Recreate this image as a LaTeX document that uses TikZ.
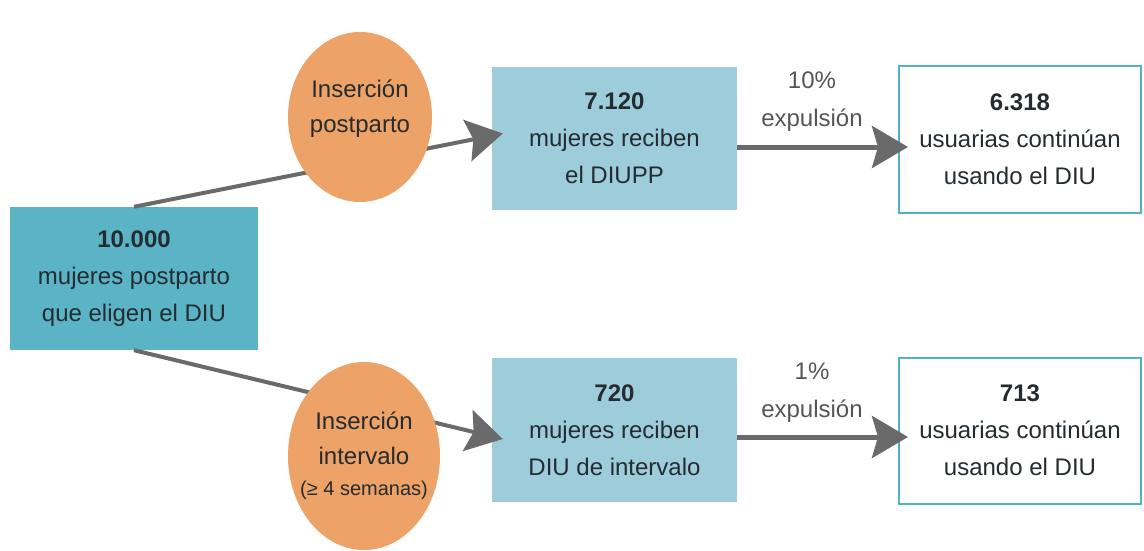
\documentclass[tikz,border=0pt]{standalone}
\usepackage{fontspec}
\setmainfont{Liberation Sans}
\usetikzlibrary{arrows.meta,shapes.geometric}

\definecolor{tealdark}{HTML}{5AB4C6}
\definecolor{teallight}{HTML}{9DCCDA}
\definecolor{tealline}{HTML}{4FB3C4}
\definecolor{naranja}{HTML}{EDA267}
\definecolor{gris}{HTML}{6A6A6A}
\definecolor{texto}{HTML}{252C30}

\tikzset{
    caja/.style={rectangle, inner sep=0pt, align=center, text=texto,
        font=\fontsize{24}{37}\selectfont},
    elipse/.style={ellipse, fill=naranja, inner sep=0pt, align=center,
        text=texto, font=\fontsize{24}{35}\selectfont},
    flecha/.style={draw=gris, line width=5pt,
        -{Stealth[length=36pt,width=42pt,inset=6pt]}},
    etiqueta/.style={align=center, text=gris!80!black,
        font=\fontsize{24}{38}\selectfont}
}

\begin{document}
\begin{tikzpicture}[x=1pt,y=-1pt]
    \useasboundingbox (0,0) rectangle (1144,551);

    % cajas
    \node[caja, fill=tealdark, minimum width=248pt, minimum height=143pt] (dn) at (134, 278.5)
        {\textbf{10.000}\\mujeres postparto\\que eligen el DIU};
    \node[caja, fill=teallight, minimum width=245pt, minimum height=143pt] (pp) at (614.5, 138.5)
        {\textbf{7.120}\\mujeres reciben\\el DIUPP};
    \node[caja, fill=teallight, minimum width=245pt, minimum height=144pt] (ib) at (614.5, 430)
        {\textbf{720}\\mujeres reciben\\DIU de intervalo};
    \node[caja, fill=white, draw=tealline, line width=2pt, minimum width=242pt, minimum height=147pt] (pr) at (1020, 139.5)
        {\textbf{6.318}\\usuarias continúan\\usando el DIU};
    \node[caja, fill=white, draw=tealline, line width=2pt, minimum width=242pt, minimum height=146pt] (ir) at (1020, 430.5)
        {\textbf{713}\\usuarias continúan\\usando el DIU};

    % flechas
    \draw[flecha, line width=4pt] (dn.north) -- ([xshift=11pt, yshift=5pt]pp.west);
    \draw[flecha, line width=4pt] (dn.south) -- ([xshift=11pt, yshift=-9pt]ib.west);
    \draw[flecha, shorten >=-10pt] (pp.east |- 0,147) -- (pr.west |- 0,147);
    \draw[flecha, shorten >=-10pt] (ib.east |- 0,437) -- (ir.west |- 0,437);

    % elipses
    \node[elipse, minimum width=144pt, minimum height=170pt] (ep) at (360, 117)
        {Inserción\\postparto\\[-14pt]};
    \node[elipse, minimum width=152pt, minimum height=188pt] (ei) at (364, 456)
        {Inserción\\intervalo\\[-4pt]\makebox[0pt]{\fontsize{20}{24}\selectfont(≥ 4 semanas)}};

    \node[etiqueta] (ex1) at (812, 102) {10\%\\expulsión};
    \node[etiqueta] (ex2) at (812, 393) {1\%\\expulsión};
\end{tikzpicture}
\end{document}
